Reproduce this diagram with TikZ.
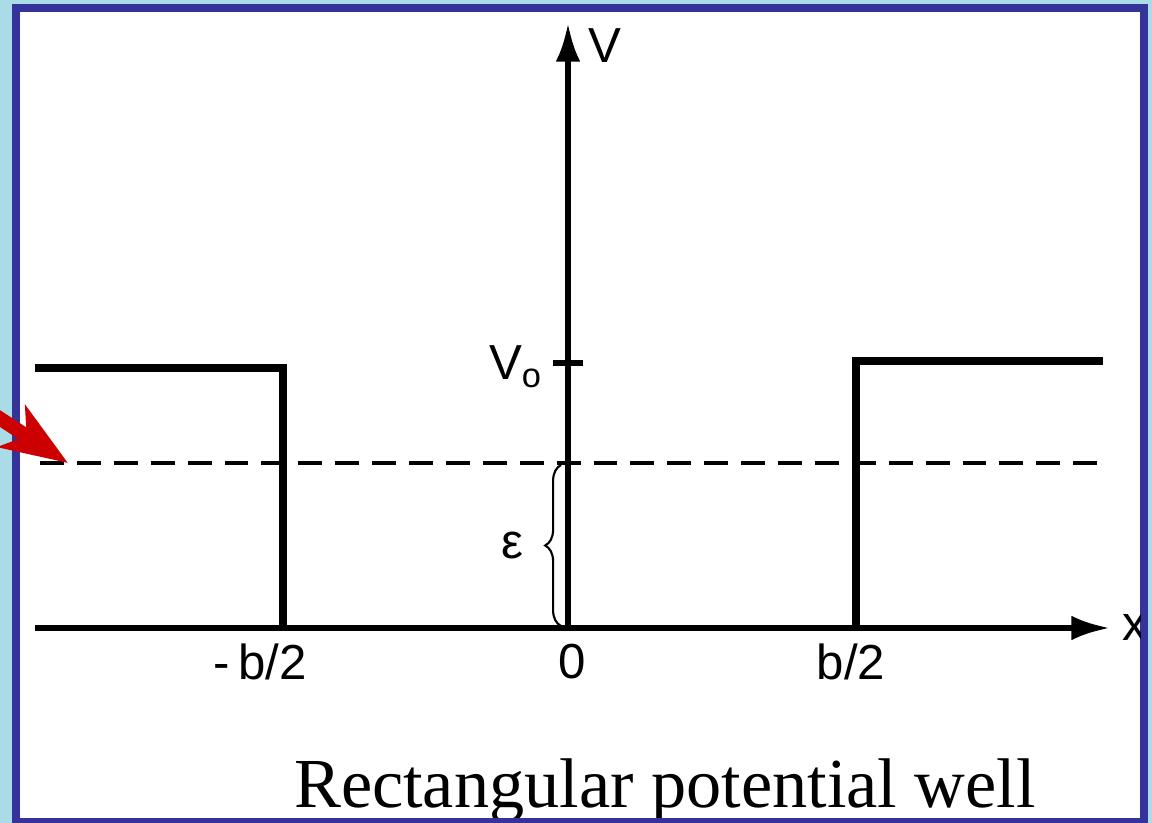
\documentclass[tikz,border=0pt]{standalone}
\usepackage{fontspec}
\setmainfont{Liberation Serif}
\setsansfont{Liberation Sans}
\usetikzlibrary{arrows.meta,decorations.pathreplacing}

\definecolor{framebg}{RGB}{170,220,232}
\definecolor{frameblue}{RGB}{51,51,153}
\definecolor{pointred}{RGB}{204,0,0}

\tikzset{
  wall/.style={line width=2pt, line join=miter},
  axis/.style={line width=1.7pt, -{Latex[length=11pt,width=7pt]}},
  lbl/.style={font=\sffamily\fontsize{14}{16}\selectfont},
}

\begin{document}
\begin{tikzpicture}
\useasboundingbox (0,0) rectangle (11.52,8.23);

% Frame
\fill[framebg] (0,0) rectangle (11.52,8.23);
\fill[frameblue] (0.12,-0.1) rectangle (11.48,8.19);
\fill[white] (0.20,0.05) rectangle (11.40,8.11);

\begin{scope}
\clip (0.20,0.05) rectangle (11.40,8.11);

% Key points
\coordinate (O) at (5.68,1.95);
\coordinate (xstart) at (0.35,1.95);
\coordinate (xend) at (11.10,1.95);
\coordinate (yend) at (5.68,8.00);

% Axes
\draw[axis] (xstart) -- (xend);
\draw[axis] (O) -- (yend);
\node[lbl] (xlab) at (11.35,1.95) {x};
\node[lbl] (vlab) at (6.05,7.77) {V};

% Barriers
\draw[wall] (0.35,4.55) -- (2.83,4.55) -- (2.83,1.95);
\draw[wall] (8.56,1.95) -- (8.56,4.62) -- (11.03,4.62);

% Barrier height
\draw[line width=1.7pt] (5.53,4.60) -- (5.83,4.60);
\node[lbl] (vzero) at (5.16,4.56) {V\textsubscript{o}};

% Energy level
\draw[line width=1.2pt, dash pattern=on 6.8pt off 3.7pt] (0.40,3.60) -- (11.10,3.60);
\draw[line width=0.6pt, decorate, decoration={brace, amplitude=4.5pt}]
  (5.61,1.97) -- (5.61,3.58);
\node[lbl] (eps) at (5.12,2.77) {ε};

% Tick labels
\node[lbl] (mhalf) at (2.60,1.61) {-\,b/2};
\node[lbl] (zero) at (5.72,1.61) {0};
\node[lbl] (phalf) at (8.51,1.61) {b/2};

% Caption
\node[font=\fontsize{20}{22}\selectfont, anchor=base] (caption) at (6.65,0.15)
  {Rectangular potential well};
\end{scope}

% Pointer
\coordinate (ptail) at (-0.3,4.24);
\coordinate (ptip) at (0.68,3.60);
\draw[pointred, line width=4pt, -{Stealth[length=19pt,width=14pt,inset=5pt]}]
  (ptail) -- (ptip);

\end{tikzpicture}
\end{document}
